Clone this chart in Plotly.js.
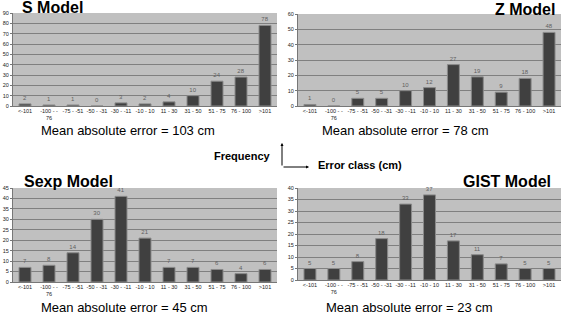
<!DOCTYPE html>
<html><head><meta charset="utf-8">
<script src="https://cdn.plot.ly/plotly-3.0.1.min.js"></script>
<style>html,body{margin:0;padding:0;background:#fff}#c{width:567px;height:315px}</style>
</head><body><div id="c"></div>
<script>
const categories = ["<-101","-100 - -<br>76","-75 - -51","-50 - -31","-30 - -11","-10 - 10","11 - 30","31 - 50","51 - 75","76 - 100",">101"];
const sModel = [2,1,1,0,3,2,4,10,24,28,78];
const zModel = [1,0,5,5,10,12,27,19,9,18,48];
const sexpModel = [7,8,14,30,41,21,7,7,6,4,6];
const gistModel = [5,5,8,18,33,37,17,11,7,5,5];
const yMax = [90,60,45,40];
const yStep = [10,10,5,5];
const titles = ["S Model","Z Model","Sexp Model","GIST Model"];
const maeText = ["Mean absolute error = 103 cm","Mean absolute error = 78 cm","Mean absolute error = 45 cm","Mean absolute error = 23 cm"];

const W=567,H=315;
const px = x=>x/W, py = y=>1-y/H;
const boxes = [
  {l:13,r:277,t:13,b:106},
  {l:298,r:561,t:14,b:106},
  {l:13,r:277,t:188,b:282},
  {l:298,r:561,t:188,b:280}
];
const series=[sModel,zModel,sexpModel,gistModel];
const data=[]; const layout={width:W,height:H,margin:{l:0,r:0,t:0,b:0},paper_bgcolor:'#fff',showlegend:false,
  font:{family:'Liberation Sans, Arial, sans-serif'},bargap:0.5,annotations:[],shapes:[]};
series.forEach((s,i)=>{
  const n=i===0?'':String(i+1);
  data.push({type:'bar',x:categories,y:s,xaxis:'x'+n,yaxis:'y'+n,
    marker:{color:'#404040',line:{color:'#8a8a8a',width:1}},
    text:s.map(String),textposition:'outside',cliponaxis:false,
    textfont:{size:6,color:'#606060'},hoverinfo:'none'});
  const b=boxes[i];
  layout['xaxis'+n]={domain:[px(b.l),px(b.r)],anchor:'y'+n,tickfont:{size:5.5,color:'#222'},
    showline:true,linecolor:'#777',linewidth:1,ticks:'',tickangle:0,fixedrange:true,showgrid:false,ticklabelstandoff:-1};
  layout['yaxis'+n]={domain:[py(b.b),py(b.t)],anchor:'x'+n,range:[0,yMax[i]],dtick:yStep[i],
    tickfont:{size:5.5,color:'#222'},showline:true,linecolor:'#777',linewidth:1,ticks:'outside',ticklen:2,
    tickcolor:'#777',gridcolor:'#808080',gridwidth:1,zeroline:false,fixedrange:true};
});
layout.plot_bgcolor='#c0c0c0';
const tpos=[{x:20,y:7,xa:'left'},{x:557,y:9,xa:'right'},{x:22,y:182,xa:'left'},{x:553,y:182,xa:'right'}];
tpos.forEach((t,i)=>layout.annotations.push({xref:'paper',yref:'paper',x:px(t.x),y:py(t.y),xanchor:t.xa,yanchor:'middle',
  text:'<b>'+titles[i]+'</b>',showarrow:false,font:{size:16,color:'#000'}}));
const mpos=[{x:128,y:130},{x:405,y:130},{x:124,y:307},{x:409,y:307}];
mpos.forEach((m,i)=>layout.annotations.push({xref:'paper',yref:'paper',x:px(m.x),y:py(m.y),xanchor:'center',yanchor:'middle',
  text:maeText[i],showarrow:false,font:{size:13,color:'#000'}}));
layout.annotations.push({xref:'paper',yref:'paper',x:px(212),y:py(156),xanchor:'left',yanchor:'middle',
  text:'<b>Frequency</b>',showarrow:false,font:{size:11,color:'#000'}});
layout.annotations.push({xref:'paper',yref:'paper',x:px(316),y:py(165),xanchor:'left',yanchor:'middle',
  text:'<b>Error class (cm)</b>',showarrow:false,font:{size:11,color:'#000'}});
layout.annotations.push({xref:'paper',yref:'paper',x:px(282),y:py(143),ax:0,ay:24,text:'',
  showarrow:true,arrowhead:2,arrowsize:0.6,arrowwidth:1,arrowcolor:'#000',standoff:0,startstandoff:0});
layout.annotations.push({xref:'paper',yref:'paper',x:px(309),y:py(167),ax:-27,ay:0,text:'',
  showarrow:true,arrowhead:2,arrowsize:0.6,arrowwidth:1,arrowcolor:'#000',standoff:0});
Plotly.newPlot('c',data,layout,{staticPlot:true});
</script></body></html>
